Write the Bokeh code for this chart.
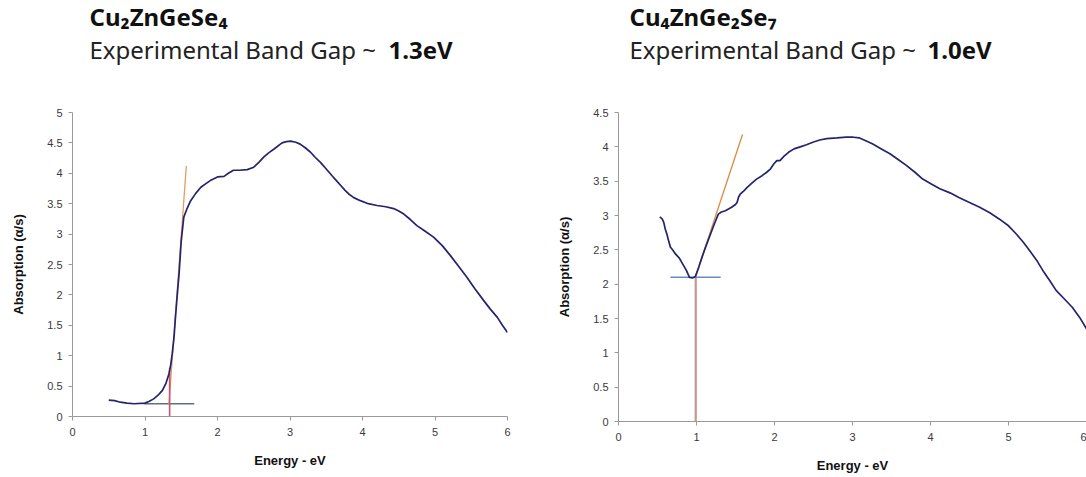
from bokeh.plotting import figure
from bokeh.layouts import row, column
from bokeh.models import FixedTicker, Range1d
from bokeh.core.properties import value
from bokeh.embed import file_html
from bokeh.resources import INLINE

# ---------------- data ----------------
# Cu2ZnGeSe4
cg_energy = [0.50, 0.58, 0.66, 0.75, 0.85, 1.00, 1.06, 1.12, 1.18, 1.24, 1.29, 1.33, 1.355, 1.375, 1.40,
             1.42, 1.445, 1.47, 1.50, 1.535, 1.58, 1.63, 1.70, 1.77, 1.84, 1.90, 2.00, 2.09, 2.15, 2.22,
             2.30, 2.41, 2.50, 2.57, 2.64, 2.71, 2.78, 2.89, 2.95, 3.01, 3.08, 3.14, 3.21, 3.28, 3.35,
             3.42, 3.50, 3.58, 3.64, 3.70, 3.76, 3.81, 3.88, 3.97, 4.08, 4.20, 4.32, 4.43, 4.50, 4.57,
             4.66, 4.75, 4.86, 4.98, 5.10, 5.21, 5.32, 5.44, 5.55, 5.67, 5.76, 5.86, 5.93, 6.00]
cg_abs = [0.27, 0.26, 0.235, 0.22, 0.21, 0.22, 0.25, 0.29, 0.35, 0.43, 0.55, 0.70, 0.85, 1.03, 1.30,
          1.63, 2.00, 2.35, 2.89, 3.28, 3.42, 3.55, 3.67, 3.77, 3.83, 3.88, 3.94, 3.95, 4.00, 4.05,
          4.05, 4.06, 4.10, 4.18, 4.27, 4.34, 4.40, 4.50, 4.52, 4.53, 4.51, 4.48, 4.42, 4.35, 4.26,
          4.18, 4.07, 3.96, 3.88, 3.80, 3.72, 3.66, 3.60, 3.55, 3.50, 3.47, 3.45, 3.42, 3.38, 3.33,
          3.24, 3.14, 3.05, 2.95, 2.81, 2.65, 2.48, 2.29, 2.10, 1.91, 1.77, 1.63, 1.50, 1.38]
cg_tangent_x = [1.33, 1.57]
cg_tangent_y = [0.20, 4.12]
cg_base_x = [0.98, 1.68]
cg_base_y = [0.21, 0.21]
cg_gap_x = [1.34, 1.34]
cg_gap_y = [0.0, 0.80]

# Cu4ZnGe2Se7
czg_energy = [0.53, 0.56, 0.58, 0.60, 0.62, 0.645, 0.665, 0.70, 0.73, 0.78, 0.82, 0.87, 0.91, 0.95, 0.985,
              1.03, 1.07, 1.12, 1.18, 1.23, 1.28, 1.32, 1.37, 1.45, 1.50, 1.52, 1.54, 1.56, 1.60, 1.65,
              1.71, 1.77, 1.84, 1.90, 1.95, 1.99, 2.03, 2.07, 2.12, 2.18, 2.25, 2.33, 2.41, 2.50, 2.58,
              2.67, 2.80, 2.92, 3.01, 3.09, 3.17, 3.26, 3.37, 3.48, 3.58, 3.69, 3.80, 3.90, 4.01, 4.12,
              4.25, 4.37, 4.50, 4.63, 4.76, 4.88, 5.00, 5.10, 5.19, 5.27, 5.36, 5.44, 5.53, 5.61, 5.72,
              5.82, 5.91, 6.00]
czg_abs = [2.98, 2.95, 2.90, 2.80, 2.73, 2.62, 2.54, 2.49, 2.44, 2.38, 2.30, 2.20, 2.10, 2.09, 2.11,
           2.25, 2.39, 2.55, 2.73, 2.88, 3.02, 3.05, 3.07, 3.12, 3.16, 3.19, 3.27, 3.31, 3.35, 3.41,
           3.47, 3.53, 3.58, 3.63, 3.68, 3.75, 3.80, 3.80, 3.86, 3.92, 3.97, 4.00, 4.03, 4.07, 4.10,
           4.12, 4.13, 4.14, 4.14, 4.13, 4.09, 4.04, 3.97, 3.90, 3.82, 3.73, 3.63, 3.53, 3.46, 3.39,
           3.33, 3.26, 3.19, 3.12, 3.04, 2.95, 2.85, 2.73, 2.61, 2.49, 2.35, 2.20, 2.05, 1.91, 1.78,
           1.66, 1.52, 1.35]
czg_tangent_x = [0.985, 1.59]
czg_tangent_y = [2.10, 4.18]
czg_base_x = [0.665, 1.31]
czg_base_y = [2.10, 2.10]
czg_gap_x = [0.99, 0.99]
czg_gap_y = [0.0, 2.10]

x_ticks = [0, 1, 2, 3, 4, 5, 6]
x_tick_labels = ["0", "1", "2", "3", "4", "5", "6"]
y_ticks_left = [0, 0.5, 1, 1.5, 2, 2.5, 3, 3.5, 4, 4.5, 5]
y_ticks_right = [0, 0.5, 1, 1.5, 2, 2.5, 3, 3.5, 4, 4.5]
y_tick_labels = ["0", "0.5", "1", "1.5", "2", "2.5", "3", "3.5", "4", "4.5", "5"]

titles = ["Cu\u2082ZnGeSe\u2084", "Cu\u2084ZnGe\u2082Se\u2087"]
subtitle = "Experimental Band Gap ~ "
gaps = ["1.3eV", "1.0eV"]
x_label = "Energy - eV"
y_label = "Absorption (\u03b1/s)"

CURVE = "#24246e"
AX_FONT = "Liberation Sans"
TITLE_FONT = "Noto Sans"
HEADER_H = 100


def make_fig(width, border_left, border_right, border_bottom, ymax, yticks):
    p = figure(width=width, height=477 - HEADER_H, output_backend="svg", toolbar_location=None,
               x_range=Range1d(0, 6), y_range=Range1d(0, ymax),
               min_border_left=border_left, min_border_right=border_right,
               min_border_top=112 - HEADER_H, min_border_bottom=border_bottom)
    p.outline_line_color = None
    p.xgrid.visible = False
    p.ygrid.visible = False
    p.background_fill_color = "white"
    p.border_fill_color = "white"
    for ax in (p.xaxis[0], p.yaxis[0]):
        ax.axis_line_color = "#9a9a9a"
        ax.major_tick_line_color = "#9a9a9a"
        ax.major_tick_in = 0
        ax.major_tick_out = 4
        ax.minor_tick_line_color = None
        ax.major_label_text_font = AX_FONT
        ax.major_label_text_font_size = "11px"
        ax.major_label_text_color = "#3a3a3a"
        ax.axis_label_text_font = AX_FONT
        ax.axis_label_text_font_size = "13px"
        ax.axis_label_text_font_style = "bold"
        ax.axis_label_text_color = "#111111"
    p.xaxis[0].ticker = FixedTicker(ticks=x_ticks)
    p.xaxis[0].major_label_overrides = {t: l for t, l in zip(x_ticks, x_tick_labels)}
    p.xaxis[0].major_label_standoff = 7
    p.xaxis[0].axis_label = x_label
    p.xaxis[0].axis_label_standoff = 14
    p.yaxis[0].ticker = FixedTicker(ticks=yticks)
    p.yaxis[0].major_label_overrides = {t: l for t, l in zip(y_ticks_left, y_tick_labels)}
    p.yaxis[0].major_label_standoff = 6
    p.yaxis[0].axis_label = y_label
    p.yaxis[0].axis_label_standoff = 18
    return p


def make_header(width, border_left, border_right, left, bold_x, i):
    # same width and side borders as the plot below, so both frames coincide
    frame_w = width - border_left - border_right
    h = figure(width=width, height=HEADER_H, output_backend="svg", toolbar_location=None,
               title_location=None,
               x_range=Range1d(0, frame_w), y_range=Range1d(0, HEADER_H),
               x_axis_type=None, y_axis_type=None,
               min_border_left=border_left, min_border_right=border_right,
               min_border_top=0, min_border_bottom=0)
    h.outline_line_color = None
    h.xgrid.visible = False
    h.ygrid.visible = False
    h.text(x=[left], y=[HEADER_H - 16], text=[titles[i]], text_font=value(TITLE_FONT),
           text_font_style="bold", text_font_size="24px", text_color="#111111",
           text_baseline="alphabetic")
    h.text(x=[left], y=[HEADER_H - 49], text=[subtitle], text_font=value(TITLE_FONT),
           text_font_size="24px", text_color="#222222", text_baseline="alphabetic")
    h.text(x=[bold_x], y=[HEADER_H - 49], text=[gaps[i]], text_font=value(TITLE_FONT),
           text_font_style="bold", text_font_size="24px", text_color="#111111",
           text_baseline="alphabetic")
    return h


# ---------- left ----------
p1 = make_fig(545, 72, 38, 61, 5, y_ticks_left)
p1.line(cg_base_x, cg_base_y, line_color="#5f7373", line_width=1.4)
p1.line(cg_tangent_x, cg_tangent_y, line_color="#e0a060", line_width=1.3)
p1.line(cg_gap_x, cg_gap_y, line_color="#d2506e", line_width=1.6)
p1.line(cg_energy, cg_abs, line_color=CURVE, line_width=1.7)
h1 = make_header(545, 72, 38, 17, 316, 0)

# ---------- right ----------
p2 = make_fig(541, 73, 0, 56, 4.5, y_ticks_right)
p2.line(czg_gap_x, czg_gap_y, line_color="#c89494", line_width=2.2)
p2.line(czg_base_x, czg_base_y, line_color="#6a8cba", line_width=1.4)
p2.line(czg_tangent_x, czg_tangent_y, line_color="#d98a45", line_width=1.3)
p2.line(czg_energy, czg_abs, line_color=CURVE, line_width=1.7)
h2 = make_header(541, 73, 0, 11, 309, 1)

layout = row(column(h1, p1), column(h2, p2))
open("out.html", "w").write(file_html(layout, INLINE))
